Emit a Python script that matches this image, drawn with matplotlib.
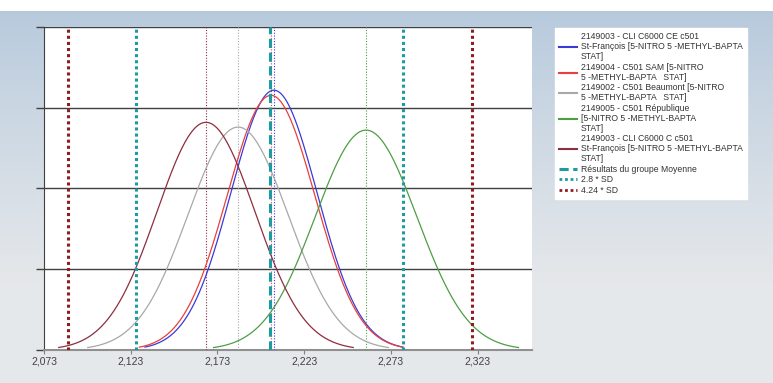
import numpy as np
import matplotlib
matplotlib.use("Agg")
import matplotlib.pyplot as plt
from matplotlib.ticker import FuncFormatter

plt.rcParams['font.family'] = ['Liberation Sans', 'DejaVu Sans']

# labs: mean and SD (curves are normal densities)
labels = [
    "2149003 - CLI C6000 CE c501\nSt-François [5-NITRO 5 -METHYL-BAPTA\nSTAT]",
    "2149004 - C501 SAM [5-NITRO\n5 -METHYL-BAPTA   STAT]",
    "2149002 - C501 Beaumont [5-NITRO\n5 -METHYL-BAPTA   STAT]",
    "2149005 - C501 République\n[5-NITRO 5 -METHYL-BAPTA\nSTAT]",
    "2149003 - CLI C6000 C c501\nSt-François [5-NITRO 5 -METHYL-BAPTA\nSTAT]",
]
means = [2.2056, 2.2039, 2.1849, 2.2587, 2.1664]
sds = [0.0248, 0.0253, 0.0289, 0.0293, 0.0283]
colors = ["#3a3ad8", "#e8403c", "#a8a8a8", "#4e9e44", "#8e2e3e"]

group_mean = 2.2033
group_sd = 0.0275
xticks = [2.073, 2.123, 2.173, 2.223, 2.273, 2.323]

fig = plt.figure(figsize=(7.73, 3.83), dpi=100)

# background gradient
bg = fig.add_axes([0, 0, 1, 1], zorder=0)
top = np.array([0.70, 0.78, 0.86])
bot = np.array([0.90, 0.91, 0.92])
t = np.linspace(0, 1, 383)[:, None]
t = np.clip(t / 0.75, 0, 1) ** 0.8
grad = top[None, :] * (1 - t) + bot[None, :] * t
grad = grad[:, None, :].repeat(10, axis=1)
grad[:11] = 1.0
bg.imshow(grad, aspect="auto", extent=[0, 1, 0, 1], origin="upper")
bg.set_axis_off()

ax = fig.add_axes([44 / 773, 1 - 350 / 383, (532 - 44) / 773, (350 - 27) / 383], zorder=1)
ax.set_facecolor("white")

handles = []
for lab, m, s, c in zip(labels, means, sds, colors):
    x = np.linspace(m - 3 * s, m + 3 * s, 300)
    y = np.exp(-0.5 * ((x - m) / s) ** 2) / (s * np.sqrt(2 * np.pi))
    h, = ax.plot(x, y, color=c, lw=0.9, label=lab, zorder=4)
    ax.axvline(m, color=c, lw=0.8, ls=(0, (1, 1.5)), zorder=3)
    handles.append(h)

hm = ax.axvline(group_mean, color="#1f9a9e", lw=2.2, ls=(0, (3, 1.5)), zorder=5,
                label="Résultats du groupe Moyenne")
for k in (-1, 1):
    h28 = ax.axvline(group_mean + k * 2.8 * group_sd, color="#1f9a9e", lw=2.2,
                     ls=(0, (1, 1)), zorder=5, label="2.8 * SD")
    h42 = ax.axvline(group_mean + k * 4.24 * group_sd, color="#8e1c24", lw=2.2,
                     ls=(0, (1, 1)), zorder=5, label="4.24 * SD")
handles += [hm, h28, h42]

ax.set_xlim(2.073, 2.3544)
ax.set_ylim(0, 20)
ax.set_xticks(xticks)
ax.xaxis.set_major_formatter(FuncFormatter(lambda v, p: f"{v:.3f}".replace(".", ",")))
ax.set_yticks([0, 5, 10, 15, 20])
ax.set_yticklabels([])
ax.grid(axis="y", color="#404040", lw=1)
ax.tick_params(axis="y", length=6, color="#404040", width=1)
ax.tick_params(axis="x", length=3, color="#808080", labelsize=7.5, labelcolor="#404040", pad=2)
for sp in ("top", "right"):
    ax.spines[sp].set_visible(False)
ax.spines["left"].set_color("#404040")
ax.spines["bottom"].set_color("#909090")
ax.spines["bottom"].set_linewidth(1.5)

leg = fig.legend(handles=handles, loc="upper left", bbox_to_anchor=(555 / 773, 1 - 28 / 383),
                 fontsize=6.2, frameon=True, fancybox=False, framealpha=1, handlelength=2.0,
                 handletextpad=0.5, labelspacing=0.2, borderpad=0.5, borderaxespad=0)
leg.get_frame().set_edgecolor("white")
leg.get_frame().set_facecolor("white")
for txt in leg.get_texts():
    txt.set_color("#333333")
    txt.set_linespacing(1.12)
for lh in leg.legend_handles:
    lh.set_linewidth(1.5)
leg.legend_handles[-3].set_linewidth(2.2)
leg.legend_handles[-2].set_linewidth(2.0)
leg.legend_handles[-1].set_linewidth(2.0)

fig.savefig("out.png", dpi=100)
